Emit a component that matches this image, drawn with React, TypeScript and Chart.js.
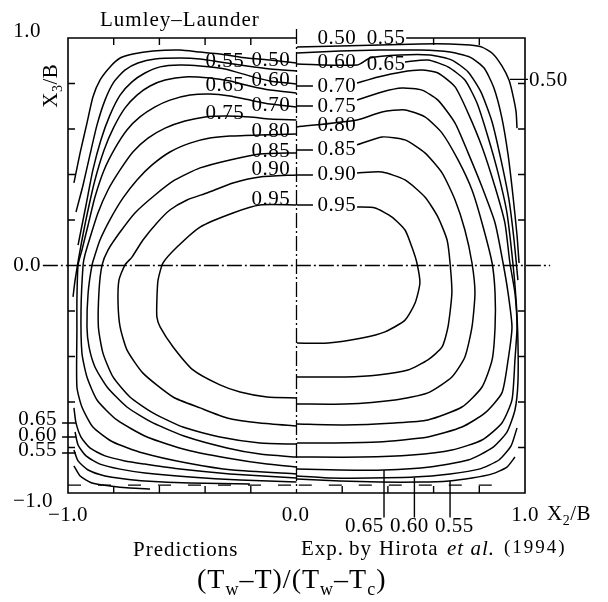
import React, { useEffect, useRef } from "react";
import { Chart, registerables } from "chart.js";

Chart.register(...registerables);

type Pt = [number, number];

// ---- contour levels ----
const levelNames = ["0.50", "0.55", "0.60", "0.65", "0.70", "0.75", "0.80", "0.85", "0.90", "0.95"];

// ---- Predictions (left half), (X2/B, X3/B) ----
const pred050: Pt[] = [[0,0.890],[-0.116,0.903],[-0.217,0.912],[-0.335,0.930],[-0.422,0.938],[-0.510,0.947],[-0.628,0.943],[-0.716,0.930],[-0.772,0.912],[-0.816,0.873],[-0.860,0.815],[-0.891,0.741],[-0.917,0.626],[-0.947,0.495],[-0.974,0.363]];
const pred050b: Pt[] = [[-0.974,-0.881],[-0.947,-0.925],[-0.895,-0.956],[-0.816,-0.969],[-0.729,-0.978],[-0.641,-0.982]];
const pred055: Pt[] = [[0,0.855],[-0.116,0.864],[-0.217,0.877],[-0.335,0.895],[-0.422,0.908],[-0.510,0.912],[-0.619,0.908],[-0.694,0.890],[-0.751,0.859],[-0.799,0.807],[-0.838,0.727],[-0.873,0.618],[-0.904,0.486],[-0.934,0.354],[-0.965,0.235]];
const pred055b: Pt[] = [[-0.974,-0.811],[-0.956,-0.859],[-0.912,-0.899],[-0.838,-0.925],[-0.751,-0.938],[-0.663,-0.947],[-0.466,-0.956],[-0.204,-0.960]];
const pred060: Pt[] = [[0,0.798],[-0.116,0.811],[-0.204,0.833],[-0.313,0.864],[-0.422,0.877],[-0.510,0.881],[-0.597,0.873],[-0.663,0.846],[-0.720,0.807],[-0.772,0.749],[-0.816,0.662],[-0.856,0.552],[-0.891,0.420],[-0.921,0.266],[-0.956,0.090]];
const pred060b: Pt[] = [[-0.969,-0.732],[-0.956,-0.789],[-0.921,-0.837],[-0.860,-0.873],[-0.772,-0.895],[-0.663,-0.912],[-0.466,-0.930],[-0.247,-0.943],[0,-0.952]];
const pred065: Pt[] = [[0,0.758],[-0.116,0.771],[-0.204,0.789],[-0.291,0.811],[-0.379,0.824],[-0.488,0.829],[-0.575,0.815],[-0.641,0.789],[-0.698,0.749],[-0.751,0.692],[-0.799,0.609],[-0.842,0.508],[-0.882,0.376],[-0.917,0.222],[-0.947,0.068],[-0.969,-0.064],[-0.978,-0.138]];
const pred065b: Pt[] = [[-0.974,-0.626],[-0.965,-0.692],[-0.943,-0.754],[-0.904,-0.802],[-0.838,-0.837],[-0.751,-0.859],[-0.663,-0.873],[-0.510,-0.895],[-0.291,-0.916],[0,-0.934]];
const pred070: Pt[] = [[0,0.697],[-0.116,0.710],[-0.204,0.727],[-0.291,0.745],[-0.379,0.754],[-0.466,0.749],[-0.554,0.727],[-0.619,0.697],[-0.685,0.653],[-0.742,0.596],[-0.794,0.516],[-0.842,0.420],[-0.882,0.301],[-0.912,0.178],[-0.939,0.068],[-0.956,0.002],[-0.961,-0.152],[-0.961,-0.284],[-0.961,-0.534],[-0.939,-0.622],[-0.891,-0.710],[-0.803,-0.776],[-0.672,-0.824],[-0.479,-0.868],[-0.278,-0.899],[0,-0.916]];
const pred075: Pt[] = [[0,0.640],[-0.116,0.644],[-0.204,0.653],[-0.313,0.657],[-0.400,0.653],[-0.488,0.635],[-0.575,0.604],[-0.650,0.560],[-0.716,0.499],[-0.772,0.420],[-0.825,0.332],[-0.869,0.231],[-0.904,0.121],[-0.926,0.046],[-0.934,0.002],[-0.943,-0.196],[-0.939,-0.385],[-0.917,-0.490],[-0.873,-0.591],[-0.786,-0.679],[-0.654,-0.754],[-0.479,-0.811],[-0.304,-0.846],[-0.129,-0.873],[0,-0.886]];
const pred080: Pt[] = [[0,0.578],[-0.160,0.574],[-0.291,0.569],[-0.379,0.560],[-0.466,0.538],[-0.554,0.499],[-0.632,0.442],[-0.698,0.376],[-0.759,0.297],[-0.812,0.209],[-0.860,0.112],[-0.882,0.046],[-0.895,0.002],[-0.912,-0.121],[-0.917,-0.270],[-0.908,-0.358],[-0.882,-0.446],[-0.829,-0.534],[-0.742,-0.622],[-0.628,-0.692],[-0.479,-0.754],[-0.304,-0.802],[-0.160,-0.829],[0,-0.842]];
const pred085: Pt[] = [[0,0.495],[-0.160,0.490],[-0.291,0.464],[-0.422,0.429],[-0.532,0.376],[-0.619,0.310],[-0.707,0.231],[-0.772,0.147],[-0.825,0.068],[-0.851,0.002],[-0.864,-0.108],[-0.867,-0.270],[-0.847,-0.385],[-0.803,-0.490],[-0.729,-0.578],[-0.628,-0.648],[-0.497,-0.710],[-0.335,-0.754],[-0.160,-0.780],[0,-0.785]];
const pred090: Pt[] = [[0,0.398],[-0.160,0.389],[-0.278,0.363],[-0.392,0.319],[-0.479,0.288],[-0.554,0.244],[-0.611,0.187],[-0.672,0.112],[-0.720,0.037],[-0.751,0.002],[-0.777,-0.064],[-0.781,-0.165],[-0.772,-0.270],[-0.742,-0.371],[-0.672,-0.473],[-0.540,-0.578],[-0.422,-0.626],[-0.304,-0.670],[-0.160,-0.692],[0,-0.705]];
const pred095: Pt[] = [[0,0.266],[-0.160,0.266],[-0.278,0.231],[-0.422,0.169],[-0.523,0.081],[-0.584,0.011],[-0.606,-0.064],[-0.611,-0.152],[-0.611,-0.226],[-0.597,-0.270],[-0.540,-0.358],[-0.453,-0.459],[-0.335,-0.525],[-0.247,-0.556],[-0.129,-0.578],[0,-0.582]];

// ---- Experiment, Hirota et al. (1994) (right half) ----
const exp050: Pt[] = [[0.002,0.960],[0.190,0.965],[0.365,0.969],[0.540,0.974],[0.672,0.974],[0.759,0.969],[0.812,0.960],[0.860,0.930],[0.899,0.877],[0.930,0.815],[0.947,0.749],[0.961,0.675],[0.965,0.604]];
const exp055: Pt[] = [[0.002,0.934],[0.190,0.943],[0.365,0.947],[0.540,0.947],[0.672,0.938],[0.759,0.916],[0.821,0.868],[0.864,0.780],[0.899,0.648],[0.926,0.486],[0.947,0.310],[0.965,0.134],[0.974,0.011]];
const exp055b: Pt[] = [[0.956,-0.842],[0.921,-0.886],[0.856,-0.916],[0.768,-0.934],[0.667,-0.947],[0.540,-0.952],[0.365,-0.952],[0.190,-0.947],[0.002,-0.938]];
const exp060: Pt[] = [[0.002,0.886],[0.265,0.881],[0.322,0.912],[0.453,0.925],[0.584,0.925],[0.680,0.903],[0.751,0.851],[0.807,0.763],[0.856,0.631],[0.895,0.464],[0.930,0.288],[0.952,0.112],[0.969,-0.064]];
const exp060b: Pt[] = [[0.965,-0.714],[0.939,-0.793],[0.886,-0.855],[0.799,-0.895],[0.672,-0.916],[0.514,-0.930],[0.322,-0.934],[0.147,-0.934],[0.002,-0.925]];
const exp065: Pt[] = [[0.475,0.895],[0.575,0.903],[0.663,0.873],[0.737,0.815],[0.790,0.714],[0.838,0.565],[0.882,0.407],[0.921,0.231],[0.947,0.011],[0.961,-0.152],[0.969,-0.327],[0.969,-0.516],[0.956,-0.635],[0.921,-0.732],[0.856,-0.802],[0.751,-0.855],[0.584,-0.886],[0.383,-0.899],[0.190,-0.899],[0.002,-0.895]];
const exp070: Pt[] = [[0.265,0.802],[0.357,0.829],[0.462,0.851],[0.549,0.859],[0.619,0.846],[0.694,0.785],[0.751,0.670],[0.812,0.521],[0.869,0.345],[0.912,0.187],[0.934,0.011],[0.956,-0.121],[0.965,-0.270],[0.956,-0.415],[0.943,-0.591],[0.899,-0.692],[0.812,-0.767],[0.680,-0.811],[0.505,-0.833],[0.287,-0.842],[0.002,-0.842]];
const exp075: Pt[] = [[0.265,0.727],[0.374,0.763],[0.462,0.780],[0.549,0.771],[0.619,0.727],[0.694,0.626],[0.751,0.495],[0.812,0.345],[0.869,0.187],[0.904,0.011],[0.926,-0.121],[0.943,-0.270],[0.926,-0.415],[0.899,-0.560],[0.825,-0.648],[0.724,-0.710],[0.575,-0.754],[0.357,-0.776],[0.138,-0.780],[0.002,-0.780]];
const exp080: Pt[] = [[0.002,0.609],[0.265,0.640],[0.374,0.675],[0.475,0.684],[0.562,0.653],[0.637,0.582],[0.707,0.464],[0.768,0.332],[0.812,0.187],[0.856,0.011],[0.869,-0.121],[0.869,-0.270],[0.856,-0.415],[0.812,-0.534],[0.724,-0.622],[0.575,-0.679],[0.431,-0.692],[0.212,-0.701],[0.002,-0.697]];
const exp085: Pt[] = [[0.265,0.530],[0.374,0.565],[0.475,0.552],[0.562,0.495],[0.637,0.407],[0.694,0.288],[0.737,0.156],[0.768,0.011],[0.781,-0.121],[0.768,-0.270],[0.737,-0.402],[0.680,-0.490],[0.575,-0.560],[0.431,-0.591],[0.212,-0.609],[0.002,-0.609]];
const exp090: Pt[] = [[0.265,0.407],[0.374,0.411],[0.475,0.376],[0.562,0.301],[0.619,0.213],[0.659,0.112],[0.672,0.011],[0.680,-0.121],[0.663,-0.270],[0.637,-0.358],[0.575,-0.415],[0.488,-0.459],[0.357,-0.481],[0.212,-0.490],[0.002,-0.490]];
const exp095: Pt[] = [[0.265,0.257],[0.344,0.253],[0.418,0.213],[0.475,0.156],[0.505,0.081],[0.527,0.011],[0.540,-0.077],[0.519,-0.165],[0.475,-0.240],[0.387,-0.292],[0.287,-0.319],[0.138,-0.341],[0.002,-0.341]];

const predictionCurves: Pt[][] = [pred050, pred050b, pred055, pred055b, pred060, pred060b, pred065, pred065b, pred070, pred075, pred080, pred085, pred090, pred095];
const experimentCurves: Pt[][] = [exp050, exp055, exp055b, exp060, exp060b, exp065, exp070, exp075, exp080, exp085, exp090, exp095];

// ---- axes ----
const tickValues = [-0.8, -0.6, -0.4, -0.2, 0.2, 0.4, 0.6, 0.8];
const yTickVals = [1, 0, -1];
const yTickText = ["1.0", "0.0", "\u22121.0"];
const xTickVals = [-1, 0, 1];
const xTickText = ["\u22121.0", "0.0", "1.0"];
const wallDashY = -0.965;

// ---- label anchors (data units) ----
const predLabelAt: Pt[] = [[-0.112,0.903],[-0.313,0.895],[-0.112,0.815],[-0.313,0.793],[-0.112,0.705],[-0.313,0.668],[-0.112,0.589],[-0.112,0.501],[-0.112,0.420],[-0.112,0.288]];
const expLabelAt: Pt[] = [[0.177,0.998],[0.392,0.998],[0.177,0.892],[0.392,0.884],[0.177,0.789],[0.177,0.701],[0.177,0.615],[0.177,0.508],[0.177,0.398],[0.177,0.266]];
const expLeaderIdx = [4, 5, 7, 8, 9];
const lowLeftText = ["0.65", "0.60", "0.55"];
const lowLeftLabelY = [-0.677, -0.745, -0.815];
const lowLeftLeaderY = [-0.692, -0.754, -0.824];
const lowRightText = ["0.65", "0.60", "0.55"];
const lowRightLabelX = [0.212, 0.409, 0.606];
const lowRightLeaderX = [0.383, 0.516, 0.672];
const lowRightLeaderTop = [-0.899, -0.932, -0.947];

const SERIF = "'Liberation Serif', 'Times New Roman', serif";

type Part = { t: string; size: number; dy?: number; italic?: boolean };

function setFont(ctx: CanvasRenderingContext2D, size: number, italic = false, spacing = 0.5) {
  ctx.font = `${italic ? "italic " : ""}${size}px ${SERIF}`;
  (ctx as any).letterSpacing = `${spacing}px`;
}

function txt(ctx: CanvasRenderingContext2D, s: string, x: number, y: number, size: number, align: CanvasTextAlign = "left", base: CanvasTextBaseline = "middle", spacing = 0.5, italic = false) {
  setFont(ctx, size, italic, spacing);
  ctx.textAlign = align;
  ctx.textBaseline = base;
  ctx.fillText(s, x, y);
}

function rich(ctx: CanvasRenderingContext2D, parts: Part[], x: number, y: number, spacing = 1, center = false) {
  ctx.textAlign = "left";
  ctx.textBaseline = "alphabetic";
  let w = 0;
  for (const p of parts) { setFont(ctx, p.size, p.italic, spacing); w += ctx.measureText(p.t).width; }
  let cx = center ? x - w / 2 : x;
  for (const p of parts) {
    setFont(ctx, p.size, p.italic, spacing);
    ctx.fillText(p.t, cx, y + (p.dy || 0));
    cx += ctx.measureText(p.t).width;
  }
}

const decorations = {
  id: "decorations",
  beforeDatasetsDraw(chart: any) {
    const { ctx } = chart;
    const sx = chart.scales.x, sy = chart.scales.y;
    const X = (v: number) => sx.getPixelForValue(v);
    const Y = (v: number) => sy.getPixelForValue(v);
    ctx.save();
    ctx.strokeStyle = "#000";
    ctx.lineWidth = 1.6;
    ctx.setLineDash([]);
    // frame (top edge hidden under the top-right labels)
    ctx.beginPath();
    ctx.moveTo(X(0.48), Y(1));
    ctx.lineTo(X(1), Y(1));
    ctx.lineTo(X(1), Y(-1));
    ctx.lineTo(X(-1), Y(-1));
    ctx.lineTo(X(-1), Y(1));
    ctx.lineTo(X(0), Y(1));
    ctx.stroke();
    // inward ticks
    ctx.lineWidth = 1.4;
    const L = 7;
    ctx.beginPath();
    for (const v of tickValues) {
      ctx.moveTo(X(-1), Y(v)); ctx.lineTo(X(-1) + L, Y(v));
      ctx.moveTo(X(1), Y(v)); ctx.lineTo(X(1) - L, Y(v));
      ctx.moveTo(X(v), Y(-1)); ctx.lineTo(X(v), Y(-1) - L);
      if (!(v > 0 && v < 0.48)) { ctx.moveTo(X(v), Y(1)); ctx.lineTo(X(v), Y(1) + L); }
    }
    ctx.stroke();
    // dash-dot centre lines
    ctx.lineWidth = 1.3;
    ctx.setLineDash([15, 3, 2, 3]);
    ctx.beginPath();
    ctx.moveTo(X(-1.11), Y(0)); ctx.lineTo(X(1.11), Y(0));
    ctx.stroke();
    ctx.beginPath();
    ctx.moveTo(X(0), Y(1.04)); ctx.lineTo(X(0), Y(-1));
    ctx.stroke();
    // dashed wall line
    ctx.setLineDash([13, 17]);
    ctx.beginPath();
    ctx.moveTo(X(-1), Y(wallDashY)); ctx.lineTo(X(0), Y(wallDashY));
    ctx.stroke();
    ctx.beginPath();
    ctx.moveTo(X(0.01), Y(wallDashY)); ctx.lineTo(X(0.912), Y(wallDashY));
    ctx.stroke();
    ctx.restore();
  },
  afterDatasetsDraw(chart: any) {
    const { ctx } = chart;
    const sx = chart.scales.x, sy = chart.scales.y;
    const X = (v: number) => sx.getPixelForValue(v);
    const Y = (v: number) => sy.getPixelForValue(v);
    ctx.save();
    ctx.fillStyle = "#000";
    ctx.strokeStyle = "#000";
    ctx.lineWidth = 1.4;
    ctx.setLineDash([]);
    // leaders
    ctx.beginPath();
    for (const i of expLeaderIdx) {
      ctx.moveTo(X(0.002), Y(expLabelAt[i][1])); ctx.lineTo(X(0.072), Y(expLabelAt[i][1]));
    }
    lowLeftLeaderY.forEach((v) => { ctx.moveTo(X(-1.026), Y(v)); ctx.lineTo(X(-0.965), Y(v)); });
    lowRightLeaderX.forEach((v, i) => { ctx.moveTo(X(v), Y(lowRightLeaderTop[i])); ctx.lineTo(X(v), Y(-1.108)); });
    ctx.moveTo(X(0.934), Y(0.818)); ctx.lineTo(X(1.013), Y(0.818));
    ctx.stroke();

    // contour labels
    levelNames.forEach((s, i) => {
      txt(ctx, s, X(predLabelAt[i][0]), Y(predLabelAt[i][1]), 21, "center");
      txt(ctx, s, X(expLabelAt[i][0]), Y(expLabelAt[i][1]), 21, "center");
    });
    lowLeftText.forEach((s, i) => txt(ctx, s, X(-1.048), Y(lowLeftLabelY[i]), 21, "right"));
    lowRightText.forEach((s, i) => txt(ctx, s, X(lowRightLabelX[i]), Y(-1.149), 21, "left"));
    txt(ctx, levelNames[0], X(1.018), Y(0.813), 21, "left");

    // tick labels
    yTickVals.forEach((v, i) => {
      const off = v === 1 ? -7 : v === -1 ? 8 : 0;
      const xr = v === -1 ? X(-1) - 15 : X(-1) - 27;
      txt(ctx, yTickText[i], xr, Y(v) + off, 21, "right");
    });
    xTickVals.forEach((v, i) => {
      txt(ctx, xTickText[i], X(v) + (v === 0 ? -1 : 0), Y(-1) + 22, 21, "center");
    });

    // axis titles
    rich(ctx, [{ t: "X", size: 21 }, { t: "2", size: 14, dy: 5 }, { t: "/B", size: 21 }], X(1) + 22, Y(-1) + 27, 0.5);
    ctx.save();
    ctx.translate(X(-1) - 11, Y(0.79));
    ctx.rotate(-Math.PI / 2);
    rich(ctx, [{ t: "X", size: 21 }, { t: "3", size: 14, dy: 5 }, { t: "/B", size: 21 }], 0, 0, 0.5, true);
    ctx.restore();

    // captions
    rich(ctx, [{ t: "Lumley\u2013Launder", size: 21 }], X(-1) + 32, Y(1) - 12, 1);
    rich(ctx, [{ t: "Predictions", size: 21 }], 133, 556, 1);
    rich(ctx, [{ t: "Exp.", size: 21 }], 301, 555, 1);
    rich(ctx, [{ t: "by", size: 21 }], 349, 555, 1);
    rich(ctx, [{ t: "Hirota", size: 21 }], 379, 555, 1);
    rich(ctx, [{ t: "et al.", size: 21, italic: true }], 447, 555, 1);
    rich(ctx, [{ t: "(1994)", size: 19 }], 504, 553, 2);
    rich(ctx, [
      { t: "(T", size: 28 }, { t: "w", size: 18, dy: 7 },
      { t: "\u2013T)/(T", size: 28 }, { t: "w", size: 18, dy: 7 },
      { t: "\u2013T", size: 28 }, { t: "c", size: 18, dy: 7 }, { t: ")", size: 28 },
    ], 197, 588, 1);
    ctx.restore();
  },
};

export default function App() {
  const ref = useRef<HTMLCanvasElement | null>(null);
  useEffect(() => {
    if (!ref.current) return;
    const toXY = (c: Pt[]) => c.map(([x, y]) => ({ x, y }));
    const curves = [...predictionCurves, ...experimentCurves];
    const chart = new Chart(ref.current, {
      type: "scatter",
      data: {
        datasets: curves.map((c) => ({
          data: toXY(c),
          showLine: true,
          borderColor: "#000",
          borderWidth: 1.5,
          pointRadius: 0,
          tension: 0.2,
          fill: false,
          clip: false,
        })),
      } as any,
      options: {
        animation: false,
        responsive: false,
        devicePixelRatio: 1,
        events: [],
        layout: { padding: { left: 68, right: 83, top: 38, bottom: 109 } },
        plugins: { legend: { display: false }, tooltip: { enabled: false } },
        scales: {
          x: { type: "linear", min: -1, max: 1, display: false },
          y: { type: "linear", min: -1, max: 1, display: false },
        },
      } as any,
      plugins: [decorations],
    });
    return () => chart.destroy();
  }, []);
  return (
    <div style={{ position: "fixed", left: 0, top: 0, width: 608, height: 602, background: "#fff" }}>
      <canvas ref={ref} width={608} height={602} style={{ display: "block" }} />
    </div>
  );
}
